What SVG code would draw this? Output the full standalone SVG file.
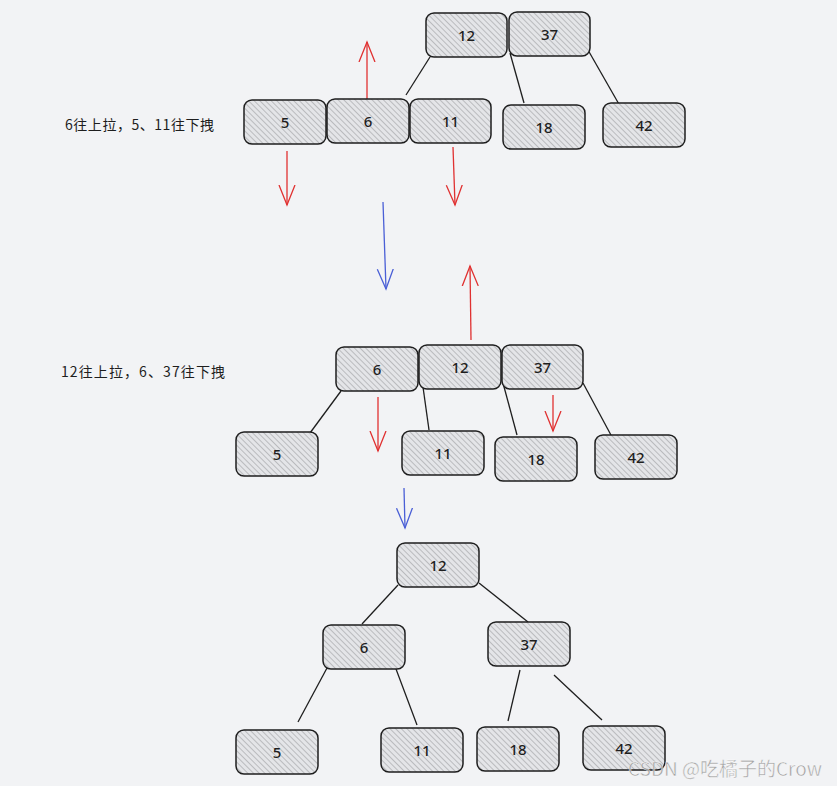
<svg xmlns="http://www.w3.org/2000/svg" width="837" height="786" viewBox="0 0 837 786">
<defs>
<pattern id="hatch" patternUnits="userSpaceOnUse" width="4" height="4" patternTransform="rotate(-45)">
<rect width="4" height="4" fill="#e4e5e8"/>
<line x1="0" y1="0" x2="0" y2="4" stroke="#a3a5a8" stroke-width="1.3"/>
</pattern>
<marker id="ar" markerUnits="userSpaceOnUse" markerWidth="24" markerHeight="20" refX="20" refY="10" orient="auto" viewBox="0 0 24 20">
<path d="M0,2 L20,10 L0,18" fill="none" stroke="#e03131" stroke-width="1.3"/>
</marker>
<marker id="ab" markerUnits="userSpaceOnUse" markerWidth="24" markerHeight="20" refX="20" refY="10" orient="auto" viewBox="0 0 24 20">
<path d="M0,2 L20,10 L0,18" fill="none" stroke="#4a5fd6" stroke-width="1.3"/>
</marker>
</defs>
<style>
.n rect{fill:url(#hatch);stroke:#1e1e1e;stroke-width:1.5}
.n text{font-family:"Noto Sans","Liberation Sans",sans-serif;font-size:15px;font-weight:500;fill:#1e1e1e;text-anchor:middle;dominant-baseline:central}
.e line{stroke:#1e1e1e;stroke-width:1.3}
.e line.r{stroke:#e03131;stroke-width:1.3;marker-end:url(#ar)}
.e line.b{stroke:#4a5fd6;stroke-width:1.3;marker-end:url(#ab)}
.lbl{font-family:"Noto Sans CJK SC","Noto Sans",sans-serif;font-size:14px;fill:#1e1e1e}
.wm{font-family:"Noto Sans CJK SC","Liberation Sans",sans-serif;font-size:19px;fill:#9a9a9a;stroke:#ffffff;stroke-width:0.4;opacity:0.9}
</style>
<rect width="837" height="786" fill="#f2f3f5"/>

<g id="connectors" class="e">
<line x1="430" y1="57" x2="406" y2="95"/>
<line x1="510" y1="53" x2="524" y2="103"/>
<line x1="588" y1="50" x2="620" y2="106"/>
<line x1="341" y1="391" x2="310" y2="433"/>
<line x1="423" y1="387" x2="429" y2="430"/>
<line x1="503" y1="383" x2="517" y2="435"/>
<line x1="583" y1="383" x2="612" y2="437"/>
<line x1="398" y1="585" x2="362" y2="624"/>
<line x1="479" y1="583" x2="528" y2="622"/>
<line x1="327" y1="668" x2="298" y2="722"/>
<line x1="396" y1="669" x2="417" y2="725"/>
<line x1="520" y1="670" x2="508" y2="721"/>
<line x1="554" y1="675" x2="602" y2="720"/>
<line class="r" x1="367" y1="99" x2="367" y2="42"/>
<line class="r" x1="287" y1="151" x2="287" y2="205"/>
<line class="r" x1="453" y1="147" x2="455" y2="205"/>
<line class="b" x1="383" y1="202" x2="386" y2="289"/>
<line class="r" x1="471" y1="340" x2="470" y2="266"/>
<line class="r" x1="378" y1="397" x2="378" y2="451"/>
<line class="r" x1="553" y1="395" x2="553" y2="431"/>
<line class="b" x1="404" y1="488" x2="405" y2="528"/>
</g>

<g id="t1-12" class="n"><rect x="426" y="13" width="81" height="44" rx="8"/><text x="466.5" y="35">12</text></g>
<g id="t1-37" class="n"><rect x="509" y="12" width="81" height="44" rx="8"/><text x="549.5" y="34">37</text></g>
<g id="t1-5" class="n"><rect x="244" y="100" width="82" height="44" rx="8"/><text x="285" y="122">5</text></g>
<g id="t1-6" class="n"><rect x="327" y="99" width="82" height="44" rx="8"/><text x="368" y="121">6</text></g>
<g id="t1-11" class="n"><rect x="410" y="99" width="81" height="44" rx="8"/><text x="450.5" y="121">11</text></g>
<g id="t1-18" class="n"><rect x="503" y="105" width="82" height="44" rx="8"/><text x="544" y="127">18</text></g>
<g id="t1-42" class="n"><rect x="603" y="103" width="82" height="44" rx="8"/><text x="644" y="125">42</text></g>

<g id="t2-6" class="n"><rect x="336" y="347" width="82" height="44" rx="8"/><text x="377" y="369">6</text></g>
<g id="t2-12" class="n"><rect x="419" y="345" width="82" height="44" rx="8"/><text x="460" y="367">12</text></g>
<g id="t2-37" class="n"><rect x="502" y="345" width="81" height="44" rx="8"/><text x="542.5" y="367">37</text></g>
<g id="t2-5" class="n"><rect x="236" y="432" width="82" height="44" rx="8"/><text x="277" y="454">5</text></g>
<g id="t2-11" class="n"><rect x="402" y="431" width="82" height="44" rx="8"/><text x="443" y="453">11</text></g>
<g id="t2-18" class="n"><rect x="495" y="437" width="82" height="44" rx="8"/><text x="536" y="459">18</text></g>
<g id="t2-42" class="n"><rect x="595" y="435" width="82" height="44" rx="8"/><text x="636" y="457">42</text></g>

<g id="t3-12" class="n"><rect x="397" y="543" width="82" height="44" rx="8"/><text x="438" y="565">12</text></g>
<g id="t3-6" class="n"><rect x="323" y="625" width="82" height="44" rx="8"/><text x="364" y="647">6</text></g>
<g id="t3-37" class="n"><rect x="488" y="622" width="82" height="44" rx="8"/><text x="529" y="644">37</text></g>
<g id="t3-5" class="n"><rect x="236" y="730" width="82" height="44" rx="8"/><text x="277" y="752">5</text></g>
<g id="t3-11" class="n"><rect x="381" y="728" width="82" height="44" rx="8"/><text x="422" y="750">11</text></g>
<g id="t3-18" class="n"><rect x="477" y="727" width="82" height="44" rx="8"/><text x="518" y="749">18</text></g>
<g id="t3-42" class="n"><rect x="583" y="726" width="82" height="44" rx="8"/><text x="624" y="748">42</text></g>

<g id="labels">
<text class="lbl" x="65" y="130" textLength="149" lengthAdjust="spacing">6往上拉，5、11往下拽</text>
<text class="lbl" x="61" y="377" textLength="164" lengthAdjust="spacing">12往上拉，6、37往下拽</text>
</g>
<text class="wm" x="628" y="776">CSDN @吃橘子的Crow</text>
</svg>
